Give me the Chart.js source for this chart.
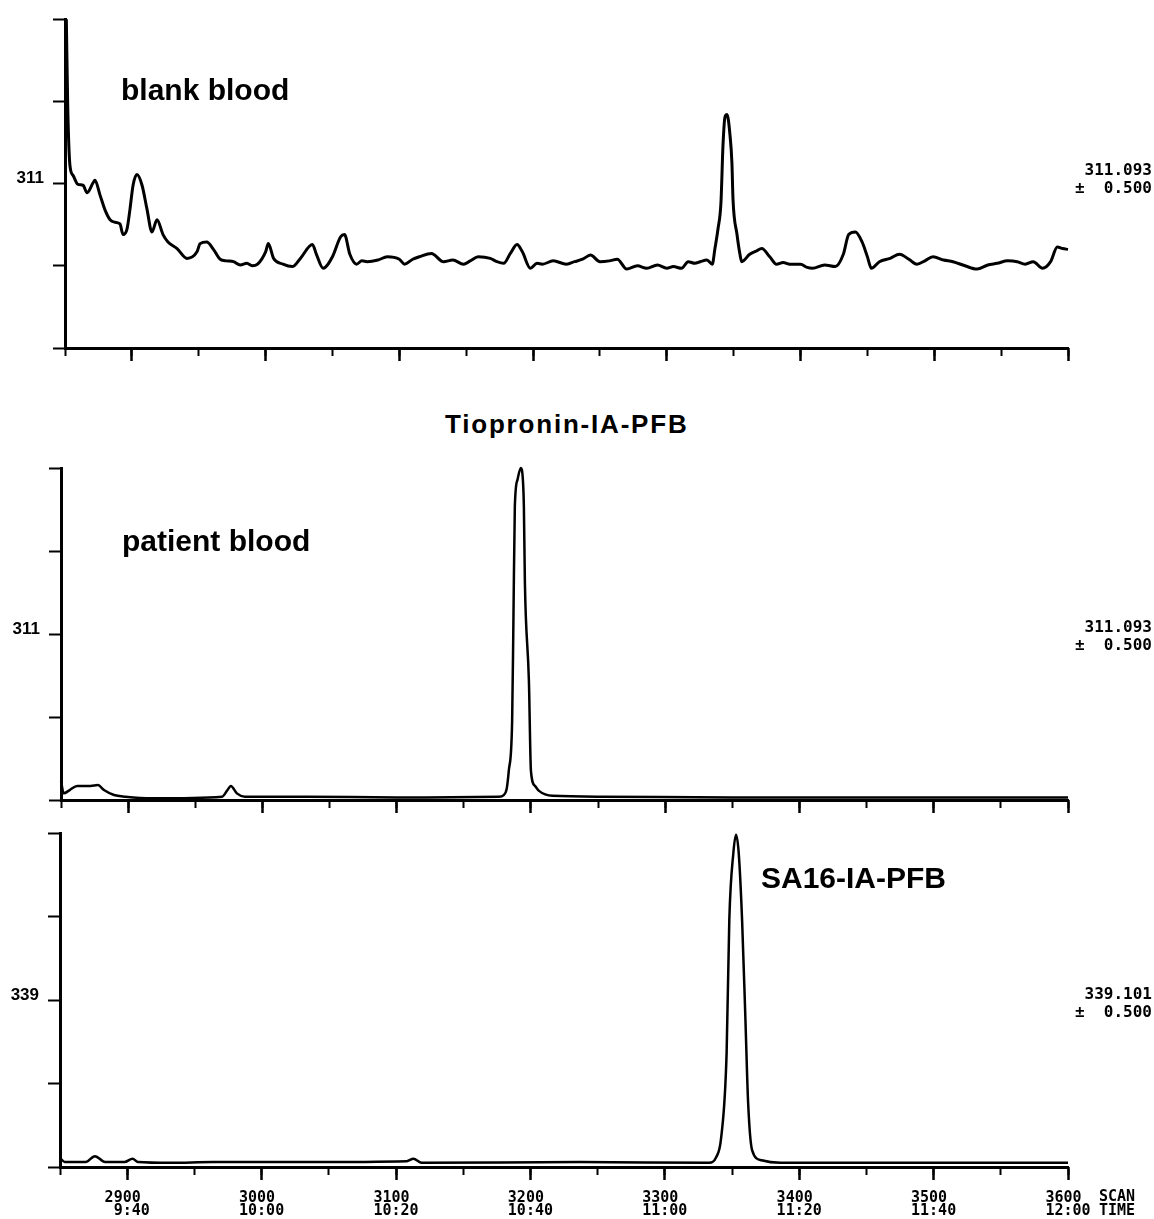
<!DOCTYPE html>
<html>
<head>
<meta charset="utf-8">
<script src="https://cdn.jsdelivr.net/npm/chart.js@4.4.1/dist/chart.umd.min.js"></script>
<style>
  body { margin: 0; background: #fff; }
  #page { position: relative; width: 1154px; height: 1219px; overflow: hidden; background: #fff; }
  canvas { position: absolute; left: 0; }
  .note { position: absolute; font-family: "Liberation Sans", Arial, sans-serif; font-weight: bold; color: #000; white-space: nowrap; line-height: 1; }
  .mass { position: absolute; right: 2px; font-family: "DejaVu Sans Mono", monospace; font-weight: bold; font-size: 16px; line-height: 18px; text-align: right; white-space: pre; color: #000; }
  .axisname { position: absolute; left: 1099px; top: 1190px; font-family: "DejaVu Sans Mono", monospace; font-weight: bold; font-size: 15px; line-height: 13.5px; white-space: pre; color: #000; }
</style>
</head>
<body>
<div id="page">
  <canvas id="blank" width="1154" height="372" style="top:0px"></canvas>
  <canvas id="patient" width="1154" height="382" style="top:440px"></canvas>
  <canvas id="sa16" width="1154" height="414" style="top:805px"></canvas>

  <div class="note" style="left:121px; top:75px; font-size:30px;">blank blood</div>
  <div class="note" style="left:445px; top:411px; font-size:26px; letter-spacing:1.8px;">Tiopronin-IA-PFB</div>
  <div class="note" style="left:122px; top:526px; font-size:30px;">patient blood</div>
  <div class="note" style="left:761px; top:863px; font-size:30px;">SA16-IA-PFB</div>

  <div class="mass" style="top:161px;">311.093
±  0.500</div>
  <div class="mass" style="top:618px;">311.093
±  0.500</div>
  <div class="mass" style="top:985px;">339.101
±  0.500</div>

  <div class="axisname">SCAN
TIME</div>
</div>

<script>
// scan range shown on every trace
var scanMin = 2850;
var scanMax = 3600;

// labelled scan ticks and matching retention times
var scanTicks = [2900, 3000, 3100, 3200, 3300, 3400, 3500, 3600];
var scanLabels = ['2900', '3000', '3100', '3200', '3300', '3400', '3500', '3600'];
var timeLabels = ['9:40', '10:00', '10:20', '10:40', '11:00', '11:20', '11:40', '12:00'];

// blank blood, m/z 311
var blankScan = [
  2851, 2852, 2853.7, 2856, 2859.7, 2863.5, 2866.5, 2871, 2872.4, 2876.2,
  2879.9, 2883.7, 2887.4, 2891.1, 2893.4, 2896.4, 2898.6, 2900.9, 2903.8, 2907.6,
  2911.3, 2915, 2918.8, 2923.3, 2927, 2933.8, 2941.2, 2948.7, 2951, 2956,
  2961, 2966, 2971, 2976, 2981, 2986, 2990, 2994, 3000, 3002,
  3006, 3013, 3020, 3026, 3035, 3038, 3043, 3050, 3056, 3059,
  3063, 3068, 3072, 3076, 3084, 3091, 3100, 3104, 3110, 3115,
  3124, 3133, 3140, 3148, 3153, 3159, 3168, 3173, 3178, 3183,
  3188, 3192, 3198, 3203, 3207, 3215, 3225, 3231, 3237, 3243,
  3250, 3257, 3263, 3270, 3278, 3285, 3293, 3300, 3305, 3311,
  3316, 3321, 3325, 3330, 3334, 3336, 3338.3, 3340.5, 3342, 3343.5,
  3345, 3347.2, 3348.7, 3349.5, 3352.5, 3354.7, 3356, 3362, 3367, 3371,
  3377, 3382, 3387, 3392, 3400, 3405, 3409, 3418, 3426, 3432,
  3436, 3441, 3446, 3450, 3453, 3459, 3467, 3474, 3481, 3487,
  3493, 3499, 3507, 3514, 3523, 3532, 3540, 3547, 3555, 3562,
  3568, 3574, 3581, 3587, 3592, 3596, 3600
];
var blankSignal = [
  4.00, 2.97, 2.22, 2.10, 1.99, 1.98, 1.89, 2.01, 2.04, 1.86,
  1.68, 1.56, 1.53, 1.51, 1.38, 1.45, 1.69, 1.98, 2.11, 1.98,
  1.69, 1.41, 1.56, 1.38, 1.29, 1.21, 1.09, 1.17, 1.27, 1.29,
  1.20, 1.08, 1.06, 1.05, 1.01, 1.03, 1.00, 1.02, 1.17, 1.27,
  1.09, 1.02, 0.99, 1.09, 1.26, 1.14, 0.97, 1.11, 1.35, 1.38,
  1.14, 1.02, 1.06, 1.05, 1.07, 1.11, 1.08, 1.02, 1.08, 1.11,
  1.15, 1.05, 1.07, 1.02, 1.06, 1.11, 1.09, 1.05, 1.03, 1.15,
  1.26, 1.17, 0.97, 1.03, 1.02, 1.06, 1.02, 1.05, 1.08, 1.13,
  1.05, 1.06, 1.08, 0.96, 1.00, 0.97, 1.01, 0.97, 0.99, 0.97,
  1.05, 1.03, 1.05, 1.07, 1.02, 1.21, 1.45, 1.77, 2.46, 2.81,
  2.84, 2.60, 2.25, 1.81, 1.38, 1.14, 1.05, 1.14, 1.18, 1.21,
  1.11, 1.02, 1.04, 1.02, 1.02, 0.98, 0.97, 1.01, 0.99, 1.14,
  1.38, 1.41, 1.29, 1.11, 0.97, 1.05, 1.09, 1.14, 1.08, 1.02,
  1.06, 1.11, 1.07, 1.05, 1.00, 0.96, 1.01, 1.03, 1.06, 1.05,
  1.02, 1.05, 0.97, 1.05, 1.23, 1.21, 1.20
];

// patient blood, m/z 311
var patientScan = [
  2850, 2852, 2856.5, 2862, 2872, 2877.5, 2882, 2889.5, 2898, 2918,
  2970, 2974, 2976.5, 2981, 2987, 3033, 3100, 3176, 3179.75, 3182,
  3183.5, 3186, 3187, 3188, 3190, 3192.5, 3194, 3194.75, 3195.5, 3198.5,
  3200, 3203, 3206, 3216, 3253, 3350, 3450, 3600
];
var patientSignal = [
  0.23, 0.08, 0.12, 0.17, 0.17, 0.18, 0.12, 0.06, 0.04, 0.02,
  0.04, 0.12, 0.17, 0.08, 0.04, 0.04, 0.03, 0.04, 0.06, 0.14,
  0.35, 0.95, 2.22, 3.53, 3.86, 4.00, 3.86, 3.53, 2.62, 1.43,
  0.35, 0.17, 0.11, 0.05, 0.04, 0.03, 0.03, 0.03
];

// internal standard, m/z 339
var sa16Scan = [
  2850, 2853.5, 2869, 2876, 2883.5, 2898, 2904, 2908, 2932, 2964,
  3033, 3108, 3113, 3119, 3237, 3333, 3338, 3342, 3346, 3348,
  3351, 3353, 3355, 3357.5, 3360, 3362, 3365, 3372, 3386, 3500,
  3600
];
var sa16Signal = [
  0.11, 0.06, 0.06, 0.13, 0.06, 0.06, 0.10, 0.06, 0.05, 0.06,
  0.06, 0.07, 0.10, 0.05, 0.06, 0.05, 0.11, 0.36, 1.37, 2.96,
  3.76, 3.98, 3.76, 2.96, 1.76, 0.77, 0.20, 0.08, 0.05, 0.05,
  0.05
];

var ink = '#000';

function tickLabel(value) {
  var i = scanTicks.indexOf(value);
  if (i < 0) return '';
  return [scanLabels[i].padEnd(5), timeLabels[i].padStart(5)];
}

function drawTrace(id, scans, signal, opts) {
  var points = scans.map(function(s, i) { return { x: s, y: signal[i] }; });

  var config = {
    type: 'line',
    data: {
      datasets: [{
        data: points,
        borderColor: ink,
        borderWidth: opts.lineWidth,
        borderJoinStyle: 'round',
        pointRadius: 0,
        cubicInterpolationMode: 'monotone',
        clip: false
      }]
    },
    options: {
      responsive: false,
      animation: false,
      events: [],
      layout: {
        padding: { top: opts.top, right: 86, left: 0, bottom: 0 }
      },
      plugins: {
        legend: { display: false },
        tooltip: { enabled: false }
      },
      scales: {
        x: {
          type: 'linear',
          min: scanMin,
          max: scanMax,
          afterFit: function(scale) { scale.height = opts.xHeight; },
          ticks: { display: false, stepSize: 50, autoSkip: false },
          grid: { drawOnChartArea: false, drawTicks: true, tickLength: 8, tickWidth: 2, tickColor: ink },
          border: { display: true, color: ink, width: 3 }
        },
        major: {
          type: 'linear',
          axis: 'x',
          position: { y: 0 },
          min: scanMin,
          max: scanMax,
          afterBuildTicks: function(scale) {
            scale.ticks = scanTicks.map(function(v) { return { value: v }; });
          },
          ticks: {
            display: opts.showTime,
            autoSkip: false,
            maxRotation: 0,
            padding: 11,
            color: ink,
            font: { family: 'DejaVu Sans Mono', weight: 'bold', size: 15, lineHeight: 0.9 },
            callback: tickLabel
          },
          grid: { drawOnChartArea: false, drawTicks: true, tickLength: 13, tickWidth: 2.5, tickColor: ink },
          border: { display: false }
        },
        y: {
          min: 0,
          max: 4,
          afterFit: function(scale) { scale.width = opts.left; },
          ticks: {
            stepSize: 1,
            padding: 9,
            labelOffset: -5,
            color: ink,
            font: { family: 'Liberation Sans', weight: 'bold', size: 17 },
            callback: function(v) { return v === 2 ? opts.massLabel : ''; }
          },
          grid: { drawOnChartArea: false, drawTicks: true, tickLength: 12, tickWidth: 2, tickColor: ink },
          border: { display: true, color: ink, width: 3 }
        }
      }
    }
  };

  return new Chart(document.getElementById(id), config);
}

drawTrace('blank', blankScan, blankSignal,
  { top: 14, left: 65, xHeight: 24, lineWidth: 3, massLabel: '311', showTime: false });
drawTrace('patient', patientScan, patientSignal,
  { top: 28, left: 61, xHeight: 22, lineWidth: 2.5, massLabel: '311', showTime: false });
drawTrace('sa16', sa16Scan, sa16Signal,
  { top: 28, left: 60, xHeight: 52, lineWidth: 2.5, massLabel: '339', showTime: true });
</script>
</body>
</html>
